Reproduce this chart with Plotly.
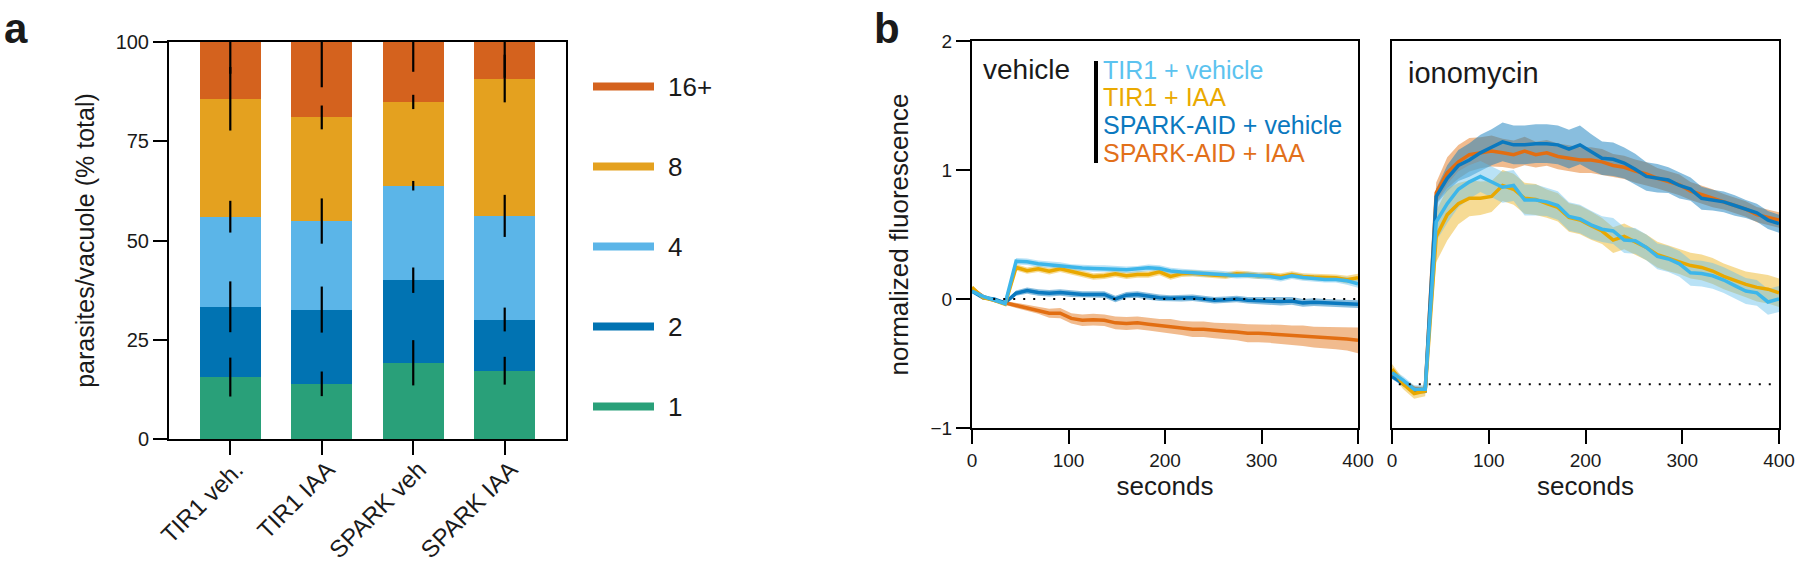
import numpy as np
import plotly.graph_objects as go

FONT = "Liberation Sans, Arial, sans-serif"
INK = "#1a1a1a"

# ---- panel a: parasites per vacuole (stacked %) ----
strains = ["TIR1 veh.", "TIR1 IAA", "SPARK veh", "SPARK IAA"]
sizes = ["1", "2", "4", "8", "16+"]
size_colors = ["#29A079", "#0173B2", "#5BB5E8", "#E4A11F", "#D4621E"]
pct = {
    "1": [15.6, 13.9, 19.2, 17.2],
    "2": [17.7, 18.7, 20.8, 12.9],
    "4": [22.7, 22.3, 23.8, 26.1],
    "8": [29.7, 26.1, 21.1, 34.6],
    "16+": [14.3, 19.0, 15.1, 9.2],
}
pct_sd = {
    "1": [4.9, 3.1, 5.7, 3.5],
    "2": [6.4, 5.8, 3.2, 3.0],
    "4": [4.0, 5.7, 1.2, 5.3],
    "8": [8.0, 3.0, 1.8, 6.0],
    "16+": [8.0, 11.4, 7.5, 9.0],
}

# ---- panel b: calcium reporter traces ----
seconds = [0, 11.4, 22.9, 34.3, 45.7, 57.1, 68.6, 80, 91.4, 102.9, 114.3, 125.7,
           137.1, 148.6, 160, 171.4, 182.9, 194.3, 205.7, 217.1, 228.6, 240,
           251.4, 262.9, 274.3, 285.7, 297.1, 308.6, 320, 331.4, 342.9, 354.3,
           365.7, 377.1, 388.6, 400]

series = ["SPARK-AID + IAA", "SPARK-AID + vehicle", "TIR1 + IAA", "TIR1 + vehicle"]
legend_order = ["TIR1 + vehicle", "TIR1 + IAA", "SPARK-AID + vehicle", "SPARK-AID + IAA"]
series_colors = {
    "TIR1 + vehicle": "#3DB6EA",
    "TIR1 + IAA": "#E9A800",
    "SPARK-AID + vehicle": "#0B79BF",
    "SPARK-AID + IAA": "#E26E12",
}
text_colors = {
    "TIR1 + vehicle": "#5CC3EF",
    "TIR1 + IAA": "#EAA900",
    "SPARK-AID + vehicle": "#0B79BF",
    "SPARK-AID + IAA": "#E2701A",
}
band_colors = {
    "TIR1 + vehicle": "rgba(100,190,235,0.45)",
    "TIR1 + IAA": "rgba(235,175,20,0.45)",
    "SPARK-AID + vehicle": "rgba(20,125,190,0.5)",
    "SPARK-AID + IAA": "rgba(228,120,30,0.5)",
}

vehicle_mean = {
    "TIR1 + vehicle": [0.062, 0.020, -0.008, -0.037, 0.293, 0.288, 0.273, 0.265, 0.259,
                       0.245, 0.240, 0.237, 0.237, 0.231, 0.226, 0.231, 0.242, 0.237,
                       0.217, 0.209, 0.203, 0.197, 0.197, 0.189, 0.183, 0.186, 0.180,
                       0.175, 0.161, 0.180, 0.166, 0.158, 0.152, 0.152, 0.141, 0.118],
    "TIR1 + IAA": [0.09, 0.01, -0.01, -0.04, 0.245, 0.22, 0.235, 0.215, 0.235, 0.215,
                   0.195, 0.175, 0.18, 0.195, 0.18, 0.19, 0.19, 0.21, 0.175, 0.195,
                   0.2, 0.19, 0.185, 0.18, 0.195, 0.19, 0.18, 0.185, 0.175, 0.19,
                   0.175, 0.17, 0.17, 0.165, 0.15, 0.165],
    "SPARK-AID + vehicle": [0.06, 0.01, 0.0, -0.03, 0.045, 0.065, 0.05, 0.045, 0.05,
                            0.04, 0.035, 0.035, 0.035, 0.0, 0.03, 0.035, 0.02, 0.01,
                            0.005, 0.005, 0.01, 0.0, -0.01, -0.005, 0.0, -0.01, -0.015,
                            -0.015, -0.02, -0.015, -0.03, -0.025, -0.03, -0.035, -0.035,
                            -0.04],
    "SPARK-AID + IAA": [0.08, 0.02, -0.01, -0.03, -0.05, -0.07, -0.085, -0.11, -0.11,
                        -0.15, -0.165, -0.16, -0.165, -0.185, -0.19, -0.185, -0.195,
                        -0.205, -0.21, -0.225, -0.235, -0.235, -0.245, -0.25, -0.255,
                        -0.265, -0.265, -0.27, -0.275, -0.28, -0.285, -0.295, -0.3,
                        -0.305, -0.31, -0.32],
}
vehicle_sem = {
    "TIR1 + vehicle": [0.01, 0.01, 0.01, 0.01, 0.025, 0.025, 0.025, 0.025, 0.025, 0.025,
                       0.025, 0.025, 0.025, 0.025, 0.025, 0.025, 0.025, 0.025, 0.025,
                       0.025, 0.025, 0.025, 0.025, 0.025, 0.025, 0.025, 0.025, 0.025,
                       0.025, 0.025, 0.025, 0.025, 0.025, 0.025, 0.03, 0.03],
    "TIR1 + IAA": [0.01, 0.01, 0.01, 0.01, 0.025, 0.025, 0.025, 0.025, 0.025, 0.025,
                   0.025, 0.025, 0.025, 0.025, 0.025, 0.025, 0.025, 0.025, 0.025, 0.025,
                   0.025, 0.025, 0.025, 0.025, 0.025, 0.025, 0.025, 0.025, 0.025, 0.025,
                   0.025, 0.025, 0.025, 0.025, 0.03, 0.03],
    "SPARK-AID + vehicle": [0.01, 0.01, 0.01, 0.01, 0.02, 0.025, 0.025, 0.025, 0.025,
                            0.025, 0.025, 0.025, 0.025, 0.025, 0.025, 0.025, 0.025, 0.025,
                            0.025, 0.025, 0.025, 0.025, 0.025, 0.025, 0.025, 0.025, 0.03,
                            0.03, 0.03, 0.03, 0.03, 0.03, 0.03, 0.03, 0.03, 0.03],
    "SPARK-AID + IAA": [0.01, 0.01, 0.01, 0.015, 0.02, 0.025, 0.03, 0.035, 0.04, 0.04,
                        0.045, 0.045, 0.045, 0.05, 0.05, 0.05, 0.05, 0.05, 0.055, 0.055,
                        0.06, 0.06, 0.06, 0.065, 0.065, 0.07, 0.07, 0.07, 0.075, 0.075,
                        0.08, 0.08, 0.085, 0.085, 0.09, 0.1],
}

iono_mean = {
    "TIR1 + vehicle": [-0.572, -0.629, -0.699, -0.699, 0.598, 0.739, 0.851, 0.908, 0.950,
                       0.908, 0.866, 0.880, 0.767, 0.767, 0.753, 0.725, 0.640, 0.620,
                       0.575, 0.541, 0.527, 0.457, 0.451, 0.400, 0.330, 0.310, 0.273,
                       0.203, 0.197, 0.180, 0.147, 0.104, 0.062, 0.048, -0.023, 0.0],
    "TIR1 + IAA": [-0.544, -0.657, -0.733, -0.713, 0.485, 0.654, 0.739, 0.781, 0.781,
                   0.795, 0.880, 0.851, 0.781, 0.772, 0.739, 0.710, 0.632, 0.612, 0.569,
                   0.527, 0.457, 0.485, 0.443, 0.400, 0.344, 0.316, 0.293, 0.259, 0.245,
                   0.217, 0.175, 0.141, 0.113, 0.090, 0.076, 0.048],
    "SPARK-AID + vehicle": [-0.600, -0.657, -0.713, -0.713, 0.795, 0.936, 1.035, 1.077,
                            1.133, 1.176, 1.218, 1.195, 1.195, 1.204, 1.204, 1.195, 1.162,
                            1.195, 1.139, 1.091, 1.083, 1.054, 1.006, 0.950, 0.936, 0.922,
                            0.880, 0.852, 0.781, 0.767, 0.753, 0.725, 0.697, 0.668, 0.612,
                            0.584],
    "SPARK-AID + IAA": [-0.586, -0.643, -0.693, -0.705, 0.823, 0.978, 1.063, 1.119, 1.133,
                        1.147, 1.133, 1.119, 1.147, 1.119, 1.133, 1.105, 1.091, 1.077,
                        1.077, 1.063, 1.035, 1.021, 0.992, 0.970, 0.936, 0.908, 0.885,
                        0.837, 0.809, 0.781, 0.753, 0.725, 0.697, 0.654, 0.632, 0.612],
}
iono_sem = {
    "TIR1 + vehicle": [0.03, 0.03, 0.03, 0.03, 0.15, 0.15, 0.14, 0.13, 0.12, 0.12, 0.12,
                       0.12, 0.12, 0.12, 0.11, 0.11, 0.11, 0.11, 0.11, 0.1, 0.1, 0.1,
                       0.1, 0.1, 0.1, 0.1, 0.1, 0.1, 0.1, 0.1, 0.1, 0.1, 0.1, 0.1, 0.1,
                       0.1],
    "TIR1 + IAA": [0.04, 0.04, 0.04, 0.04, 0.2, 0.2, 0.16, 0.14, 0.13, 0.12, 0.12, 0.12,
                   0.12, 0.12, 0.11, 0.11, 0.11, 0.11, 0.11, 0.1, 0.1, 0.1, 0.1, 0.1,
                   0.1, 0.1, 0.1, 0.1, 0.1, 0.1, 0.1, 0.1, 0.1, 0.11, 0.11, 0.11],
    "SPARK-AID + vehicle": [0.02, 0.02, 0.02, 0.02, 0.06, 0.1, 0.12, 0.13, 0.14, 0.14,
                            0.15, 0.15, 0.15, 0.15, 0.15, 0.15, 0.15, 0.15, 0.14, 0.13,
                            0.13, 0.12, 0.12, 0.11, 0.11, 0.1, 0.1, 0.09, 0.09, 0.08, 0.08,
                            0.08, 0.07, 0.07, 0.07, 0.07],
    "SPARK-AID + IAA": [0.02, 0.02, 0.02, 0.02, 0.08, 0.12, 0.13, 0.13, 0.12, 0.12, 0.11,
                        0.11, 0.11, 0.1, 0.1, 0.1, 0.1, 0.1, 0.1, 0.1, 0.09, 0.09, 0.09,
                        0.09, 0.08, 0.08, 0.08, 0.07, 0.07, 0.07, 0.06, 0.06, 0.06, 0.06,
                        0.06, 0.06],
}

baseline_vehicle = 0.0
baseline_iono = -0.66
baseline_span = {"vehicle": [22, 400], "iono": [7, 394]}

fig = go.Figure()

# stacked bars
for s, c in zip(sizes, size_colors):
    fig.add_trace(go.Bar(x=strains, y=pct[s], name=s, marker=dict(color=c, line=dict(width=0)),
                         xaxis="x", yaxis="y", showlegend=False))

# error bars sit on the top of each stacked segment
cum = np.cumsum(np.array([pct[s] for s in sizes]), axis=0)
for i, s in enumerate(sizes):
    fig.add_trace(go.Scatter(x=strains, y=cum[i], mode="markers",
                             marker=dict(size=0.1, color="black", opacity=0),
                             error_y=dict(type="data", array=pct_sd[s], width=0, thickness=2.2, color="black"),
                             xaxis="x", yaxis="y", showlegend=False, hoverinfo="skip"))

# time traces with SEM bands
t = np.array(seconds)
for means, sems, ax, ay in [(vehicle_mean, vehicle_sem, "x2", "y2"), (iono_mean, iono_sem, "x3", "y3")]:
    for name in series:
        m = np.array(means[name])
        e = np.array(sems[name])
        fig.add_trace(go.Scatter(x=np.concatenate([t, t[::-1]]), y=np.concatenate([m + e, (m - e)[::-1]]),
                                 fill="toself", fillcolor=band_colors[name], line=dict(width=0),
                                 mode="lines", xaxis=ax, yaxis=ay, showlegend=False, hoverinfo="skip"))
    for name in series:
        fig.add_trace(go.Scatter(x=t, y=means[name], mode="lines",
                                 line=dict(color=series_colors[name], width=3.5),
                                 xaxis=ax, yaxis=ay, showlegend=False, name=name))

for key, base, ax, ay in [("vehicle", baseline_vehicle, "x2", "y2"), ("iono", baseline_iono, "x3", "y3")]:
    fig.add_trace(go.Scatter(x=baseline_span[key], y=[base, base], mode="lines",
                             line=dict(color="black", width=2, dash="2px,8px"),
                             xaxis=ax, yaxis=ay, showlegend=False, hoverinfo="skip"))

W, H = 1800, 570
def px(x):
    return x / W
def py(y):
    return 1 - y / H

axis_style = dict(showline=True, linecolor="black", linewidth=2, mirror=True, showgrid=False,
                  zeroline=False, automargin=False, ticks="outside", ticklen=14, tickwidth=2,
                  tickcolor="black", tickfont=dict(family=FONT, size=19, color=INK))
title_font = dict(family=FONT, size=26, color=INK)

fig.update_layout(
    template="none",
    width=W, height=H, margin=dict(l=0, r=0, t=0, b=0, pad=0),
    plot_bgcolor="white", paper_bgcolor="white",
    barmode="stack", bargap=0.333, showlegend=False,
    font=dict(family=FONT, color=INK),
    xaxis=dict(axis_style, domain=[px(169), px(566)], range=[-0.67, 3.67], anchor="y",
               tickangle=-45, ticklabelstandoff=-9, ticklabelshift=6,
               tickfont=dict(family=FONT, size=24, color=INK)),
    yaxis=dict(axis_style, domain=[py(439), py(42)], range=[0, 100], anchor="x",
               tickvals=[0, 25, 50, 75, 100], tickfont=dict(family=FONT, size=20, color=INK),
               title=dict(text="parasites/vacuole (% total)", font=dict(family=FONT, size=25, color=INK), standoff=14)),
    xaxis2=dict(axis_style, domain=[px(972), px(1358)], range=[0, 400], anchor="y2",
                tickvals=[0, 100, 200, 300, 400],
                title=dict(text="seconds", font=title_font, standoff=6)),
    yaxis2=dict(axis_style, domain=[py(428), py(41)], range=[-1, 2], anchor="x2",
                tickvals=[-1, 0, 1, 2],
                title=dict(text="normalized fluorescence", font=title_font, standoff=14)),
    xaxis3=dict(axis_style, domain=[px(1392), px(1779)], range=[0, 400], anchor="y3",
                tickvals=[0, 100, 200, 300, 400],
                title=dict(text="seconds", font=title_font, standoff=6)),
    yaxis3=dict(axis_style, domain=[py(428), py(41)], range=[-1, 2], anchor="x3",
                ticks="", showticklabels=False),
)

ann = []
shapes = []
# panel letters
ann.append(dict(text="<b>a</b>", x=px(2), y=py(28), xref="paper", yref="paper", xanchor="left",
                yanchor="middle", showarrow=False, font=dict(family=FONT, size=42, color=INK)))
ann.append(dict(text="<b>b</b>", x=px(872), y=py(28), xref="paper", yref="paper", xanchor="left",
                yanchor="middle", showarrow=False, font=dict(family=FONT, size=42, color=INK)))

# panel a legend, largest class on top
for k, (s, c) in enumerate(zip(sizes[::-1], size_colors[::-1])):
    yc = 86.5 + 80 * k
    shapes.append(dict(type="rect", xref="paper", yref="paper", x0=px(593), x1=px(654),
                       y0=py(yc + 4), y1=py(yc - 4), fillcolor=c, line=dict(width=0)))
    ann.append(dict(text=s, x=px(666), y=py(yc), xref="paper", yref="paper", xanchor="left",
                    yanchor="middle", showarrow=False, font=dict(family=FONT, size=26, color=INK)))

# panel b labels
ann.append(dict(text="vehicle", x=px(981), y=py(70), xref="paper", yref="paper", xanchor="left",
                yanchor="middle", showarrow=False, font=dict(family=FONT, size=28, color=INK)))
ann.append(dict(text="ionomycin", x=px(1406), y=py(73), xref="paper", yref="paper", xanchor="left",
                yanchor="middle", showarrow=False, font=dict(family=FONT, size=29, color=INK)))
for k, name in enumerate(legend_order):
    ann.append(dict(text=name, x=px(1101), y=py(70 + 27.5 * k), xref="paper", yref="paper",
                    xanchor="left", yanchor="middle", showarrow=False,
                    font=dict(family=FONT, size=25, color=text_colors[name])))
shapes.append(dict(type="line", xref="paper", yref="paper", x0=px(1096), x1=px(1096),
                   y0=py(61), y1=py(163), line=dict(color="black", width=4)))

fig.update_layout(annotations=ann, shapes=shapes)
fig.write_html("out.html", config={"displayModeBar": False},
               post_script="document.body.style.margin='0';document.body.style.overflow='hidden';")
